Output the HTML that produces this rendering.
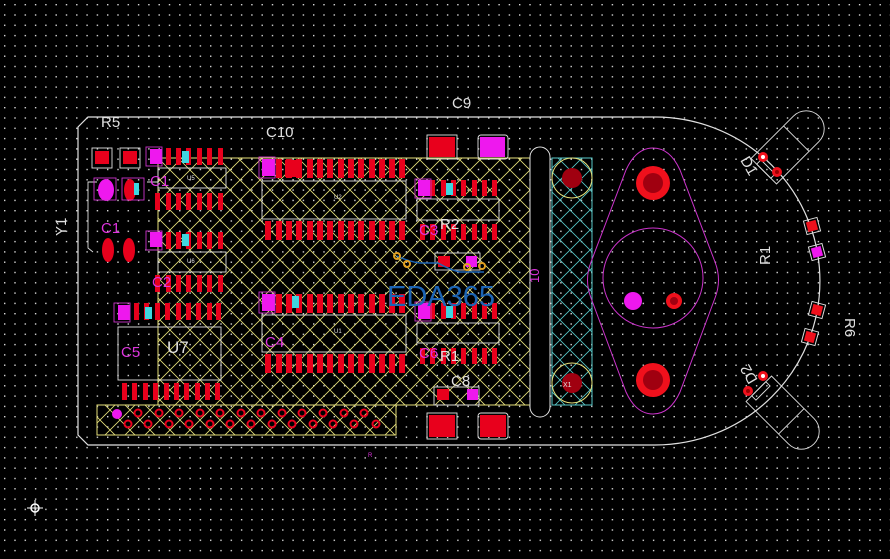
<!DOCTYPE html>
<html><head><meta charset="utf-8"><style>
html,body{margin:0;padding:0;background:#000;width:890px;height:559px;overflow:hidden}
svg{display:block}
text{font-family:"Liberation Sans",sans-serif}
</style></head><body>
<svg width="890" height="559" viewBox="0 0 890 559" xmlns="http://www.w3.org/2000/svg">
<defs>
<pattern id="grid" x="4" y="4" width="10.3" height="10.3" patternUnits="userSpaceOnUse">
<rect x="0" y="0" width="1.4" height="1.4" fill="#d8d8d8"/>
</pattern>
<pattern id="hy" x="0" y="0" width="20" height="20" patternUnits="userSpaceOnUse">
<path d="M0,0 L20,20 M20,0 L0,20" stroke="#e6e07a" stroke-width="0.8" fill="none"/>
</pattern>
<pattern id="hc" x="0" y="0" width="20" height="20" patternUnits="userSpaceOnUse">
<path d="M0,0 L20,20 M20,0 L0,20" stroke="#58c8c8" stroke-width="0.8" fill="none"/>
</pattern>
</defs>
<rect width="890" height="559" fill="#000"/>
<rect width="890" height="559" fill="url(#grid)"/>

<!-- board outline -->
<path d="M88,117 L655,117 A165,164 0 0 1 655,445 L88,445 L78,435 L78,127 Z" fill="none" stroke="#e0e0e0" stroke-width="1.2"/>

<!-- hatched copper regions -->
<rect x="158" y="158" width="372" height="247" fill="url(#hy)" stroke="#e6e07a" stroke-width="1"/>
<rect x="97" y="405" width="299" height="30" fill="url(#hy)" stroke="#e6e07a" stroke-width="1"/>
<rect x="552" y="158" width="40" height="247" fill="url(#hc)" stroke="#58c8c8" stroke-width="1"/>
<rect x="530" y="147" width="20" height="270" rx="10" fill="#000" stroke="#e0e0e0" stroke-width="1"/>

<!-- crystal circles -->
<circle cx="572" cy="178" r="20" fill="none" stroke="#e6e07a"/>
<circle cx="572" cy="178" r="10" fill="#a00010"/>
<circle cx="572" cy="383" r="20" fill="none" stroke="#e6e07a"/>
<circle cx="572" cy="383" r="10" fill="#a00010"/>
<text x="563" y="387" font-size="7" fill="#e0e0e0">X1</text>

<g fill="#e8001c">
<!-- U5 -->
<rect x="166" y="148" width="5" height="17"/><rect x="176" y="148" width="5" height="17"/><rect x="186" y="148" width="5" height="17"/><rect x="197" y="148" width="5" height="17"/><rect x="207" y="148" width="5" height="17"/><rect x="218" y="148" width="5" height="17"/>
<rect x="155" y="193" width="5" height="17"/><rect x="166" y="193" width="5" height="17"/><rect x="176" y="193" width="5" height="17"/><rect x="186" y="193" width="5" height="17"/><rect x="197" y="193" width="5" height="17"/><rect x="207" y="193" width="5" height="17"/><rect x="218" y="193" width="5" height="17"/>
<!-- U6 -->
<rect x="166" y="232" width="5" height="17"/><rect x="176" y="232" width="5" height="17"/><rect x="186" y="232" width="5" height="17"/><rect x="197" y="232" width="5" height="17"/><rect x="207" y="232" width="5" height="17"/><rect x="218" y="232" width="5" height="17"/>
<rect x="155" y="275" width="5" height="17"/><rect x="166" y="275" width="5" height="17"/><rect x="176" y="275" width="5" height="17"/><rect x="186" y="275" width="5" height="17"/><rect x="197" y="275" width="5" height="17"/><rect x="207" y="275" width="5" height="17"/><rect x="218" y="275" width="5" height="17"/>
<!-- U7 -->
<rect x="134" y="303" width="5" height="17"/><rect x="144" y="303" width="5" height="17"/><rect x="155" y="303" width="5" height="17"/><rect x="165" y="303" width="5" height="17"/><rect x="176" y="303" width="5" height="17"/><rect x="186" y="303" width="5" height="17"/><rect x="196" y="303" width="5" height="17"/><rect x="207" y="303" width="5" height="17"/><rect x="216" y="303" width="5" height="17"/>
<rect x="122" y="383" width="5" height="17"/><rect x="132" y="383" width="5" height="17"/><rect x="143" y="383" width="5" height="17"/><rect x="153" y="383" width="5" height="17"/><rect x="164" y="383" width="5" height="17"/><rect x="174" y="383" width="5" height="17"/><rect x="184" y="383" width="5" height="17"/><rect x="195" y="383" width="5" height="17"/><rect x="205" y="383" width="5" height="17"/><rect x="215" y="383" width="5" height="17"/>
<!-- U2 -->
<rect x="276" y="159" width="6" height="19"/><rect x="286" y="159" width="6" height="19"/><rect x="296" y="159" width="6" height="19"/><rect x="307" y="159" width="6" height="19"/><rect x="317" y="159" width="6" height="19"/><rect x="327" y="159" width="6" height="19"/><rect x="338" y="159" width="6" height="19"/><rect x="348" y="159" width="6" height="19"/><rect x="358" y="159" width="6" height="19"/><rect x="369" y="159" width="6" height="19"/><rect x="379" y="159" width="6" height="19"/><rect x="389" y="159" width="6" height="19"/><rect x="399" y="159" width="6" height="19"/>
<rect x="265" y="221" width="6" height="19"/><rect x="276" y="221" width="6" height="19"/><rect x="286" y="221" width="6" height="19"/><rect x="296" y="221" width="6" height="19"/><rect x="307" y="221" width="6" height="19"/><rect x="317" y="221" width="6" height="19"/><rect x="327" y="221" width="6" height="19"/><rect x="338" y="221" width="6" height="19"/><rect x="348" y="221" width="6" height="19"/><rect x="358" y="221" width="6" height="19"/><rect x="369" y="221" width="6" height="19"/><rect x="379" y="221" width="6" height="19"/><rect x="389" y="221" width="6" height="19"/><rect x="399" y="221" width="6" height="19"/>
<!-- U1 -->
<rect x="276" y="294" width="6" height="19"/><rect x="286" y="294" width="6" height="19"/><rect x="296" y="294" width="6" height="19"/><rect x="307" y="294" width="6" height="19"/><rect x="317" y="294" width="6" height="19"/><rect x="327" y="294" width="6" height="19"/><rect x="338" y="294" width="6" height="19"/><rect x="348" y="294" width="6" height="19"/><rect x="358" y="294" width="6" height="19"/><rect x="369" y="294" width="6" height="19"/><rect x="379" y="294" width="6" height="19"/><rect x="389" y="294" width="6" height="19"/><rect x="399" y="294" width="6" height="19"/>
<rect x="265" y="354" width="6" height="19"/><rect x="276" y="354" width="6" height="19"/><rect x="286" y="354" width="6" height="19"/><rect x="296" y="354" width="6" height="19"/><rect x="307" y="354" width="6" height="19"/><rect x="317" y="354" width="6" height="19"/><rect x="327" y="354" width="6" height="19"/><rect x="338" y="354" width="6" height="19"/><rect x="348" y="354" width="6" height="19"/><rect x="358" y="354" width="6" height="19"/><rect x="369" y="354" width="6" height="19"/><rect x="379" y="354" width="6" height="19"/><rect x="389" y="354" width="6" height="19"/><rect x="399" y="354" width="6" height="19"/>
<!-- R2 IC -->
<rect x="430" y="180" width="5" height="16"/><rect x="441" y="180" width="5" height="16"/><rect x="451" y="180" width="5" height="16"/><rect x="461" y="180" width="5" height="16"/><rect x="472" y="180" width="5" height="16"/><rect x="482" y="180" width="5" height="16"/><rect x="492" y="180" width="5" height="16"/>
<rect x="420" y="224" width="5" height="16"/><rect x="430" y="224" width="5" height="16"/><rect x="441" y="224" width="5" height="16"/><rect x="451" y="224" width="5" height="16"/><rect x="461" y="224" width="5" height="16"/><rect x="472" y="224" width="5" height="16"/><rect x="482" y="224" width="5" height="16"/><rect x="492" y="224" width="5" height="16"/>
<!-- R1 IC -->
<rect x="430" y="303" width="5" height="16"/><rect x="441" y="303" width="5" height="16"/><rect x="451" y="303" width="5" height="16"/><rect x="461" y="303" width="5" height="16"/><rect x="472" y="303" width="5" height="16"/><rect x="482" y="303" width="5" height="16"/><rect x="492" y="303" width="5" height="16"/>
<rect x="420" y="348" width="5" height="16"/><rect x="430" y="348" width="5" height="16"/><rect x="441" y="348" width="5" height="16"/><rect x="451" y="348" width="5" height="16"/><rect x="461" y="348" width="5" height="16"/><rect x="472" y="348" width="5" height="16"/><rect x="482" y="348" width="5" height="16"/><rect x="492" y="348" width="5" height="16"/>
<!-- discrete pads -->
<rect x="95" y="151" width="14" height="13"/><rect x="123" y="151" width="14" height="13"/>
<rect x="429" y="137" width="26" height="20"/>
<rect x="429" y="415" width="26" height="22"/><rect x="480" y="415" width="26" height="22"/>
<rect x="437" y="389" width="12" height="11"/>
<rect x="438" y="256" width="12" height="11"/>
<rect x="285" y="160" width="14" height="17"/>
<ellipse cx="130" cy="190" rx="6" ry="11"/>
<ellipse cx="108" cy="250" rx="6" ry="12"/><ellipse cx="129" cy="250" rx="6" ry="12"/>
</g>

<!-- magenta pads -->
<g fill="#ee18ee">
<rect x="150" y="149" width="12" height="15"/>
<rect x="150" y="232" width="12" height="15"/>
<rect x="118" y="305" width="12" height="15"/>
<rect x="262" y="159" width="13" height="17"/>
<rect x="262" y="294" width="13" height="17"/>
<rect x="418" y="180" width="12" height="16"/>
<rect x="418" y="303" width="12" height="16"/>
<rect x="480" y="137" width="25" height="20"/>
<rect x="467" y="389" width="11" height="11"/>
<rect x="466" y="256" width="11" height="11"/>
<ellipse cx="106" cy="190" rx="8" ry="11"/>
<circle cx="117" cy="414" r="5"/>
<circle cx="633" cy="301" r="9"/>
</g>
<g fill="#3fd6e0">
<rect x="182" y="151" width="7" height="12"/><rect x="182" y="234" width="7" height="12"/>
<rect x="145" y="307" width="7" height="12"/><rect x="134" y="183" width="5" height="12"/>
<rect x="292" y="296" width="7" height="12"/><rect x="446" y="183" width="7" height="12"/><rect x="446" y="306" width="7" height="12"/>
</g>

<!-- silkscreen outlines -->
<g fill="none" stroke="#e0e0e0" stroke-width="0.9">
<rect x="92" y="148" width="20" height="20"/><rect x="120" y="148" width="20" height="20"/>
<rect x="427" y="135" width="30" height="24"/><rect x="478" y="135" width="30" height="24" rx="3"/>
<rect x="427" y="413" width="30" height="26"/><rect x="478" y="413" width="30" height="26" rx="3"/>
<rect x="434" y="387" width="45" height="18"/>
<rect x="435" y="253" width="45" height="17"/>
<rect x="158" y="168" width="68" height="20"/><rect x="158" y="252" width="68" height="20"/>
<rect x="118" y="327" width="103" height="53"/>
<rect x="262" y="181" width="144" height="38"/><rect x="262" y="315" width="144" height="37"/>
<rect x="417" y="199" width="82" height="21"/><rect x="417" y="323" width="82" height="20"/>
<path d="M97,182 L88,182 L88,248 L93,252 M147,182 L158,182 M145,250 L158,250"/>
</g>
<g fill="none" stroke="#cc33cc" stroke-width="0.9">
<rect x="94" y="178" width="22" height="22"/><rect x="122" y="178" width="22" height="22"/>
<rect x="146" y="147" width="16" height="19"/><rect x="146" y="231" width="16" height="19"/><rect x="114" y="303" width="16" height="19"/>
<rect x="259" y="157" width="16" height="21"/><rect x="259" y="292" width="16" height="21"/>
<rect x="415" y="179" width="16" height="19"/><rect x="415" y="302" width="16" height="19"/>
</g>
<g fill="#e0e0e0" font-size="6"><text x="187" y="180">U5</text><text x="187" y="263">U6</text><text x="334" y="199">U2</text><text x="334" y="333">U1</text></g>

<!-- connector holes -->
<g fill="none" stroke="#e8001c" stroke-width="2">
<circle cx="138" cy="413" r="3.5"/><circle cx="159" cy="413" r="3.5"/><circle cx="179" cy="413" r="3.5"/><circle cx="200" cy="413" r="3.5"/><circle cx="220" cy="413" r="3.5"/><circle cx="241" cy="413" r="3.5"/><circle cx="261" cy="413" r="3.5"/><circle cx="282" cy="413" r="3.5"/><circle cx="302" cy="413" r="3.5"/><circle cx="323" cy="413" r="3.5"/><circle cx="344" cy="413" r="3.5"/><circle cx="364" cy="413" r="3.5"/>
<circle cx="128" cy="424" r="3.5"/><circle cx="148" cy="424" r="3.5"/><circle cx="169" cy="424" r="3.5"/><circle cx="189" cy="424" r="3.5"/><circle cx="210" cy="424" r="3.5"/><circle cx="230" cy="424" r="3.5"/><circle cx="251" cy="424" r="3.5"/><circle cx="272" cy="424" r="3.5"/><circle cx="292" cy="424" r="3.5"/><circle cx="313" cy="424" r="3.5"/><circle cx="333" cy="424" r="3.5"/><circle cx="354" cy="424" r="3.5"/><circle cx="376" cy="424" r="3.5"/>
</g>

<!-- EDA365 trace -->
<path d="M397,256 Q410,262 420,263 L438,263 Q450,270 460,272 L484,272" fill="none" stroke="#1c64b4" stroke-width="1.5"/>
<g fill="none" stroke="#e2a020" stroke-width="2"><circle cx="397" cy="256" r="3"/><circle cx="407" cy="264" r="3"/><circle cx="467" cy="267" r="3"/><circle cx="482" cy="266" r="3"/></g>
<text x="387" y="306" font-size="29" fill="#1c64b4">EDA365</text>

<!-- right side big part -->
<path d="M653,148 Q670,148 680,170 L715,262 Q722,280 715,298 L680,392 Q670,414 653,414 Q636,414 626,392 L591,298 Q584,280 591,262 L626,170 Q636,148 653,148 Z" fill="none" stroke="#cc33cc" stroke-width="1"/>
<circle cx="653" cy="278" r="50" fill="none" stroke="#cc33cc" stroke-width="1"/>
<circle cx="653" cy="183" r="17" fill="#f0101c"/><circle cx="653" cy="183" r="10" fill="#a00010"/>
<circle cx="653" cy="380" r="17" fill="#f0101c"/><circle cx="653" cy="380" r="10" fill="#a00010"/>
<circle cx="674" cy="301" r="8" fill="#f0101c"/><circle cx="674" cy="301" r="4" fill="#a00010"/>

<!-- D1 / D2 LEDs -->
<g fill="none" stroke="#e0e0e0" stroke-width="0.9">
<g transform="translate(785,150) rotate(-45)"><rect x="-30" y="-18" width="46" height="36"/><path d="M16,-18 L30,-18 A18,18 0 0 1 30,18 L16,18"/><rect x="-30" y="-10" width="6" height="20"/></g>
<g transform="translate(780,410) rotate(45)"><rect x="-30" y="-18" width="46" height="36"/><path d="M16,-18 L30,-18 A18,18 0 0 1 30,18 L16,18"/><rect x="-30" y="-10" width="6" height="20"/></g>
</g>
<circle cx="763" cy="157" r="5" fill="#f0101c"/><circle cx="763" cy="157" r="2" fill="#fff"/>
<circle cx="777" cy="172" r="5" fill="#f0101c"/><circle cx="777" cy="172" r="2" fill="#900"/>
<circle cx="763" cy="376" r="5" fill="#f0101c"/><circle cx="763" cy="376" r="2" fill="#fff"/>
<circle cx="748" cy="391" r="5" fill="#f0101c"/><circle cx="748" cy="391" r="2" fill="#900"/>
<g transform="translate(812,226) rotate(-15)"><rect x="-7" y="-7" width="14" height="14" fill="none" stroke="#e0e0e0"/><rect x="-5" y="-5" width="10" height="10" fill="#f0101c"/></g>
<g transform="translate(817,252) rotate(-15)"><rect x="-7" y="-7" width="14" height="14" fill="none" stroke="#e0e0e0"/><rect x="-5" y="-5" width="10" height="10" fill="#ee18ee"/></g>
<g transform="translate(817,310) rotate(15)"><rect x="-7" y="-7" width="14" height="14" fill="none" stroke="#e0e0e0"/><rect x="-5" y="-5" width="10" height="10" fill="#f0101c"/></g>
<g transform="translate(810,337) rotate(15)"><rect x="-7" y="-7" width="14" height="14" fill="none" stroke="#e0e0e0"/><rect x="-5" y="-5" width="10" height="10" fill="#f0101c"/></g>

<!-- labels -->
<g fill="#e0e0e0" font-size="15">
<text x="101" y="127">R5</text>
<text x="266" y="137">C10</text>
<text x="452" y="108">C9</text>
<text x="451" y="386">C8</text>
<text x="167" y="353" font-size="17">U7</text>
<text x="440" y="229">R2</text>
<text x="440" y="361">R1</text>
<text transform="translate(66,236) rotate(-90)">Y1</text>
<text transform="translate(770,265) rotate(-90)">R1</text>
<text transform="translate(845,318) rotate(90)">R6</text>
<text transform="translate(740,160) rotate(60)">D1</text>
<text transform="translate(758,380) rotate(-120)">D2</text>
</g>
<g fill="#dd33dd" font-size="15">
<text x="101" y="233">C1</text>
<text x="121" y="357">C5</text>
<text x="265" y="347">C4</text>
<text x="150" y="186">C1</text>
<text x="152" y="287">C2</text>
<text x="419" y="235">C3</text>
<text x="419" y="358">C6</text>
<text transform="translate(539,283) rotate(-90)" font-size="13">10</text>
<text x="368" y="457" font-size="6">R</text>
</g>

<!-- origin marker -->
<circle cx="35" cy="508" r="4" fill="none" stroke="#fff" stroke-width="1.5"/>
<path d="M27,508 L43,508 M35,500 L35,516" stroke="#fff" stroke-width="1"/>
</svg>
</body></html>
